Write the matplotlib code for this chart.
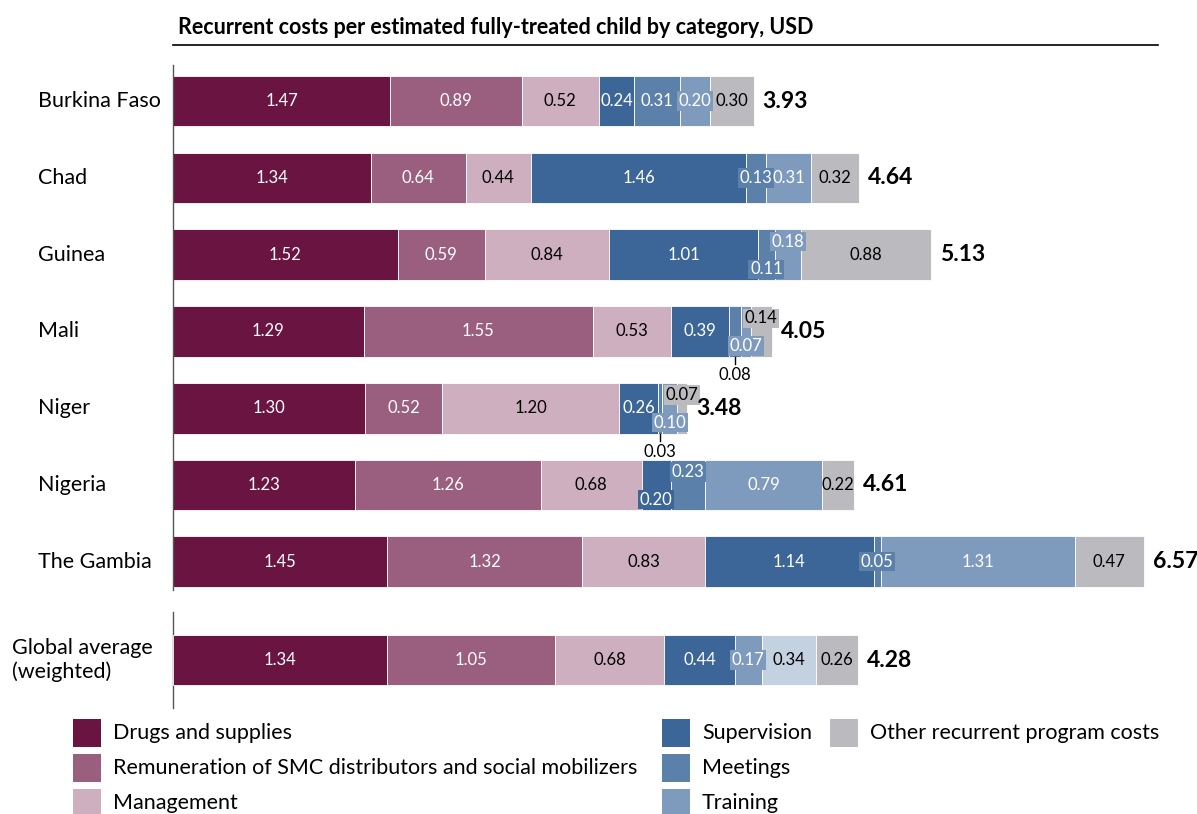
import matplotlib.pyplot as plt
from matplotlib.patches import Rectangle
from matplotlib.lines import Line2D
import matplotlib.transforms as mtransforms

plt.rcParams['font.family'] = ['Lato', 'DejaVu Sans']

# Data
countries = ['Burkina Faso', 'Chad', 'Guinea', 'Mali', 'Niger', 'Nigeria', 'The Gambia',
             'Global average\n(weighted)']
categories = ['Drugs and supplies', 'Remuneration of SMC distributors and social mobilizers',
              'Management', 'Supervision', 'Meetings', 'Training', 'Other recurrent program costs']
drugs = [1.47, 1.34, 1.52, 1.29, 1.30, 1.23, 1.45, 1.34]
remuneration = [0.89, 0.64, 0.59, 1.55, 0.52, 1.26, 1.32, 1.05]
management = [0.52, 0.44, 0.84, 0.53, 1.20, 0.68, 0.83, 0.68]
supervision = [0.24, 1.46, 1.01, 0.39, 0.26, 0.20, 1.14, 0.44]
meetings = [0.31, 0.13, 0.11, 0.08, 0.03, 0.23, 0.05, 0.17]
training = [0.20, 0.31, 0.18, 0.07, 0.10, 0.79, 1.31, 0.34]
other = [0.30, 0.32, 0.88, 0.14, 0.07, 0.22, 0.47, 0.26]
totals = [3.93, 4.64, 5.13, 4.05, 3.48, 4.61, 6.57, 4.28]
series = [drugs, remuneration, management, supervision, meetings, training, other]

colors = ['#6a1441', '#9a5f7e', '#cdafc0', '#3c6698', '#5b80aa', '#7e9bbe', '#bbbabe']
light = '#c3d1e1'
text_colors = ['white', 'white', 'black', 'white', 'white', 'white', 'black']

# label placement tweaks: (row, seg) -> mode
label_mode = {
    (0, 5): 'box', (1, 4): 'box',
    (2, 4): 'down', (2, 5): 'up',
    (3, 4): 'below', (3, 5): 'down', (3, 6): 'up',
    (4, 4): 'below', (4, 5): 'down', (4, 6): 'up',
    (5, 3): 'down', (5, 4): 'up',
    (6, 4): 'box', (7, 4): 'box',
}

fig = plt.figure(figsize=(11.97, 8.14), dpi=100)
rect = [173 / 1197, 1 - 708 / 814, 1 - 173 / 1197, (708 - 65) / 814]
ax = fig.add_axes(rect)
# the global average row is drawn on its own scale in the original
ax2 = fig.add_axes(rect)
ax2.patch.set_visible(False)

ypos = [0, 1, 2, 3, 4, 5, 6, 7.28]
h = 0.66
fs = 12

for i, y in enumerate(ypos):
    a = ax2 if i == 7 else ax
    left = 0
    for j, vals in enumerate(series):
        v = vals[i]
        c = colors[j]
        tc = text_colors[j]
        if i == 7 and j == 4:
            c = colors[5]
        if i == 7 and j == 5:
            c = light
            tc = 'black'
        a.barh(y, v, left=left, height=h, color=c, edgecolor='white', linewidth=0.6)
        mode = label_mode.get((i, j), 'center')
        cx = left + v / 2
        box = dict(boxstyle='square,pad=0.1', fc=c, ec='none')
        lbl = f'{v:.2f}'
        if mode == 'center':
            a.text(cx, y, lbl, ha='center', va='center', color=tc, fontsize=fs)
        elif mode == 'box':
            a.text(cx, y, lbl, ha='center', va='center', color=tc, fontsize=fs, bbox=box)
        elif mode == 'up':
            a.text(cx, y - 0.17, lbl, ha='center', va='center', color=tc, fontsize=fs, bbox=box)
        elif mode == 'down':
            a.text(cx, y + 0.19, lbl, ha='center', va='center', color=tc, fontsize=fs, bbox=box)
        elif mode == 'below':
            a.plot([cx, cx], [y + h / 2, y + h / 2 + 0.1], color='black', lw=1)
            a.text(cx, y + 0.57, lbl, ha='center', va='center', color='black', fontsize=fs)
        left += v
    a.text(totals[i] + 0.06, y, f'{totals[i]:.2f}', ha='left', va='center',
           fontsize=16.5, fontweight='bold')

ax.set_xlim(0, (1197 - 173) / 147.8)
ax2.set_xlim(0, (1197 - 173) / 160.0)
for a in (ax, ax2):
    a.set_ylim(7.28 + 0.625, -0.47)
    a.axis('off')

# left axis lines
ax.plot([0, 0], [-0.47, 6.37], color='#555555', lw=1, clip_on=False)
ax.plot([0, 0], [6.65, 7.9], color='#555555', lw=1, clip_on=False)

# category labels
trans = mtransforms.blended_transform_factory(fig.transFigure, ax.transData)
label_x = [38, 38, 38, 38, 38, 38, 38, 12]
for name, y, lx in zip(countries, ypos, label_x):
    ax.text(lx / 1197, y, name, transform=trans, ha='left', va='center', fontsize=15.5,
            linespacing=1.25)

# title
fig.text(178 / 1197, 1 - 28 / 814, 'Recurrent costs per estimated fully-treated child by category, USD',
         ha='left', va='center', fontsize=15.5, fontweight='bold')
fig.add_artist(Line2D([173 / 1197, 1158 / 1197], [1 - 45 / 814, 1 - 45 / 814],
                      color='black', lw=1.2, transform=fig.transFigure))

# legend
leg_pos = [(73, 733), (73, 768), (73, 803), (662, 733), (662, 768), (662, 803), (830, 733)]
for (px, py), name, c in zip(leg_pos, categories, colors):
    fig.add_artist(Rectangle((px / 1197, 1 - (py + 14) / 814), 28 / 1197, 28 / 814,
                             transform=fig.transFigure, fc=c, ec='none'))
    fig.text((px + 40) / 1197, 1 - py / 814, name, ha='left', va='center', fontsize=15.5)

fig.savefig('out.png', dpi=100)
